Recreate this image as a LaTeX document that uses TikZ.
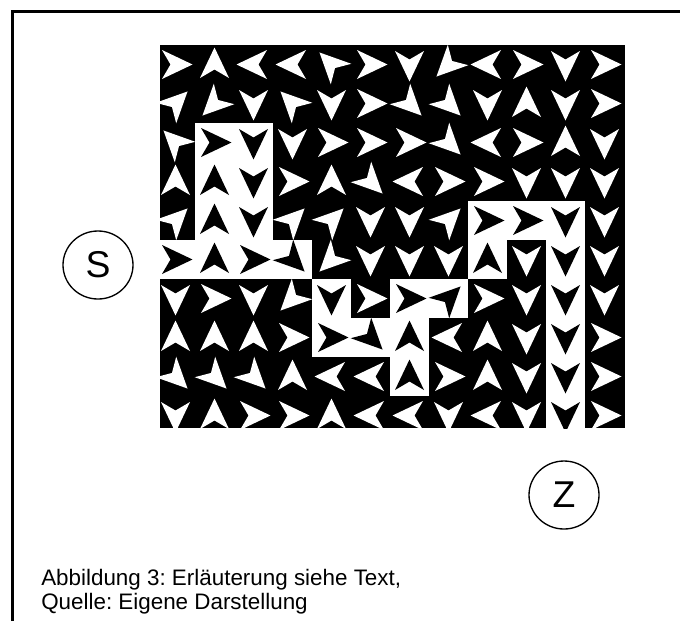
\documentclass[tikz,border=0pt]{standalone}
\usepackage{fontspec}
\setmainfont{Liberation Sans}
\usetikzlibrary{shapes.geometric}
\frenchspacing
\begin{document}
\begin{tikzpicture}[x=0.75pt,y=0.75pt,
  wdart/.pic={\fill[white] (17,0) -- (-13.5,14.5) -- (-5,0) -- (-13.5,-14.5) -- cycle;},
  bdart/.pic={\fill[black] (17,0) -- (-13.5,14.5) -- (-5,0) -- (-13.5,-14.5) -- cycle;},
  ring/.style={draw, line width=1pt, ellipse, minimum width=52.5pt, minimum height=51pt, inner sep=0pt, font=\fontsize{28}{28}\selectfont},
  caption/.style={anchor=base west, inner sep=0pt, font=\fontsize{16.8}{20}\selectfont}]
\useasboundingbox (0,0) rectangle (680,-621);
\fill[white] (0,0) rectangle (680,-621);
\draw[line width=2.25pt] (12,-621) -- (12,-11.5) -- (680,-11.5);
% grid
\fill[black] (160,-45) rectangle (625,-428);
\begin{scope}
\clip (160,-45) rectangle (625,-428);
\foreach \r/\row in {
  0/{0,90,180,180,135,0,270,225,180,0,270,0},
  1/{45,225,270,135,270,0,315,315,270,90,270,0},
  2/{135,0,270,270,0,0,0,315,180,0,90,270},
  3/{90,90,270,0,90,315,180,0,0,270,270,270},
  4/{45,90,270,45,45,270,270,45,0,0,270,270},
  5/{0,90,0,315,225,270,270,270,90,270,270,270},
  6/{270,0,270,225,270,0,0,45,0,270,270,270},
  7/{90,90,90,0,0,315,90,180,90,270,270,0},
  8/{315,315,315,90,180,180,90,0,90,270,270,0},
  9/{270,90,0,0,90,180,180,270,180,270,270,0}} {
  \foreach \a [count=\c from 0] in \row {
    \pic[rotate=\a] at ({175.5+39*\c},{-64.5-39*\r}) {wdart};
  }
}
\foreach \c/\r/\a in {1/2/0, 2/2/270, 1/3/90, 2/3/270, 1/4/90, 2/4/270,
  8/4/0, 9/4/0, 10/4/270, 0/5/0, 1/5/90, 2/5/0, 3/5/315, 8/5/90, 10/5/270,
  4/6/270, 6/6/0, 7/6/45, 10/6/270, 4/7/0, 5/7/315, 6/7/90, 10/7/270,
  6/8/90, 10/8/270, 10/9/270} {
  \fill[white] ({156+39*\c},{-45-39*\r}) rectangle ++(39,-39);
  \pic[rotate=\a] at ({175.5+39*\c},{-64.5-39*\r}) {bdart};
}
\end{scope}
% labels
\node (S) [ring] at (98,-265) {S};
\node (Z) [ring] at (564,-495) {Z};
\node (cap1) [caption] at (41,-585) {Abbildung 3: Erläuterung siehe Text,};
\node (cap2) [caption] at (41,-609) {Quelle: Eigene Darstellung};
\end{tikzpicture}
\end{document}
